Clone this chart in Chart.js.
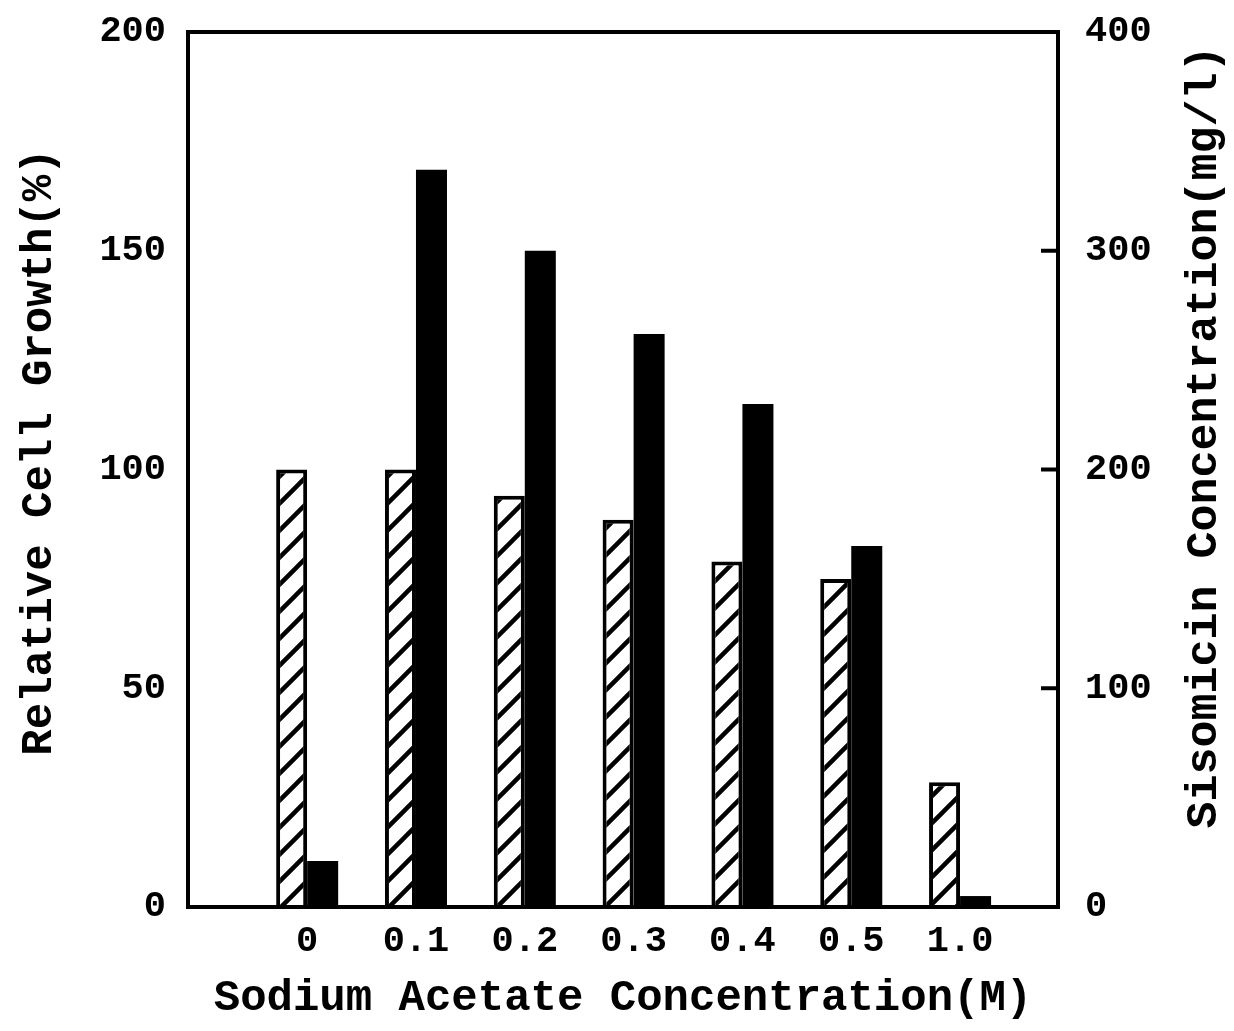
<!DOCTYPE html>
<html>
<head>
<meta charset="utf-8">
<script src="https://cdn.jsdelivr.net/npm/chart.js@4/dist/chart.umd.min.js"></script>
<style>
  html, body { margin: 0; padding: 0; background: #fff; }
  #wrap { width: 1234px; height: 1031px; }
</style>
</head>
<body>
<div id="wrap"><canvas id="chart"></canvas></div>
<script>
// sodium acetate concentration (M)
var concLabels = ['0', '0.1', '0.2', '0.3', '0.4', '0.5', '1.0'];
// relative cell growth (%), left axis
var cellGrowth = [100, 100, 94, 88.5, 79, 75, 28.5];
// sisomicin concentration (mg/l), right axis
var sisomicin = [21, 337, 300, 262, 230, 165, 5];

var leftTicks = [0, 50, 100, 150, 200];
var rightTicks = [0, 100, 200, 300, 400];

var FONT = "'Liberation Mono', 'DejaVu Sans Mono', monospace";

function hatch() {
  var n = 27;
  var c = document.createElement('canvas');
  c.width = n; c.height = n;
  var g = c.getContext('2d');
  g.fillStyle = '#fff';
  g.fillRect(0, 0, n, n);
  g.strokeStyle = '#000';
  g.lineWidth = 4.5;
  g.beginPath();
  g.moveTo(-3, n + 3); g.lineTo(n + 3, -3);
  g.moveTo(-n / 2 - 3, n / 2 + 3); g.lineTo(n / 2 + 3, -n / 2 - 3);
  g.moveTo(n / 2 - 3, n * 1.5 + 3); g.lineTo(n * 1.5 + 3, n / 2 - 3);
  g.stroke();
  return g.createPattern(c, 'repeat');
}

function pts(arr) {
  return arr.map(function (v, i) { return { x: i, y: v }; });
}

function vText(ctx, text, x, y) {
  ctx.save();
  ctx.translate(x, y);
  ctx.rotate(-Math.PI / 2);
  ctx.fillText(text, 0, 0);
  ctx.restore();
}

function yFit(w) {
  return function (scale) {
    scale.width = w;
    scale.paddingTop = 0;
    scale.paddingBottom = 0;
  };
}

var framePlugin = {
  id: 'frame',
  afterDraw: function (chart) {
    var ctx = chart.ctx, a = chart.chartArea;
    ctx.save();
    ctx.strokeStyle = '#000';
    ctx.lineWidth = 4;
    ctx.strokeRect(a.left, a.top, a.right - a.left, a.bottom - a.top);
    // inward ticks on the right axis
    var s = chart.scales.y1;
    rightTicks.forEach(function (v) {
      if (v == 0 || v == 400) return;
      var y = s.getPixelForValue(v);
      ctx.beginPath();
      ctx.moveTo(a.right - 17, y);
      ctx.lineTo(a.right, y);
      ctx.stroke();
    });
    // axis titles, both read bottom to top
    ctx.fillStyle = '#000';
    ctx.font = 'bold 44px ' + FONT;
    ctx.textAlign = 'center';
    ctx.textBaseline = 'middle';
    vText(ctx, 'Relative Cell Growth(%)', 40, 452);
    ctx.font = 'bold 45px ' + FONT;
    vText(ctx, 'Sisomicin Concentration(mg/l)', 1205, 437);
    ctx.restore();
  }
};

new Chart(document.getElementById('chart'), {
  type: 'bar',
  data: {
    datasets: [{
      label: 'Relative Cell Growth',
      data: pts(cellGrowth),
      yAxisID: 'y',
      backgroundColor: hatch(),
      borderColor: '#000',
      borderWidth: 4,
      categoryPercentage: 0.57,
      barPercentage: 1
    }, {
      label: 'Sisomicin',
      data: pts(sisomicin),
      yAxisID: 'y1',
      backgroundColor: '#000',
      borderColor: '#000',
      borderWidth: 0,
      categoryPercentage: 0.57,
      barPercentage: 1
    }]
  },
  options: {
    responsive: true,
    maintainAspectRatio: false,
    animation: false,
    layout: { padding: { top: 32, left: 0, right: 0, bottom: 0 } },
    plugins: {
      legend: { display: false },
      tooltip: { enabled: false }
    },
    scales: {
      x: {
        type: 'linear',
        min: -1.095,
        max: 6.9,
        offset: false,
        afterBuildTicks: function (scale) {
          scale.ticks = concLabels.map(function (l, i) { return { value: i }; });
        },
        afterFit: function (scale) {
          scale.height = 124;
          scale.paddingLeft = 0;
          scale.paddingRight = 0;
        },
        grid: { display: false, drawTicks: false },
        border: { display: false },
        ticks: {
          autoSkip: false,
          maxRotation: 0,
          padding: 12,
          color: '#000',
          font: { family: FONT, size: 37, weight: 'bold' },
          callback: function (v) { return concLabels[v]; }
        },
        title: {
          display: true,
          text: 'Sodium Acetate Concentration(M)',
          color: '#000',
          font: { family: FONT, size: 44, weight: 'bold' },
          padding: { top: 0, bottom: 6 }
        }
      },
      y: {
        position: 'left',
        min: 0,
        max: 200,
        afterBuildTicks: function (scale) {
          scale.ticks = leftTicks.map(function (v) { return { value: v }; });
        },
        afterFit: yFit(188),
        grid: { display: false, drawTicks: false },
        border: { display: false },
        ticks: {
          padding: 22,
          color: '#000',
          font: { family: FONT, size: 37, weight: 'bold' }
        }
      },
      y1: {
        position: 'right',
        min: 0,
        max: 400,
        afterBuildTicks: function (scale) {
          scale.ticks = rightTicks.map(function (v) { return { value: v }; });
        },
        afterFit: yFit(176),
        grid: { display: false, drawTicks: false },
        border: { display: false },
        ticks: {
          padding: 27,
          color: '#000',
          font: { family: FONT, size: 37, weight: 'bold' }
        }
      }
    }
  },
  plugins: [framePlugin]
});
</script>
</body>
</html>
